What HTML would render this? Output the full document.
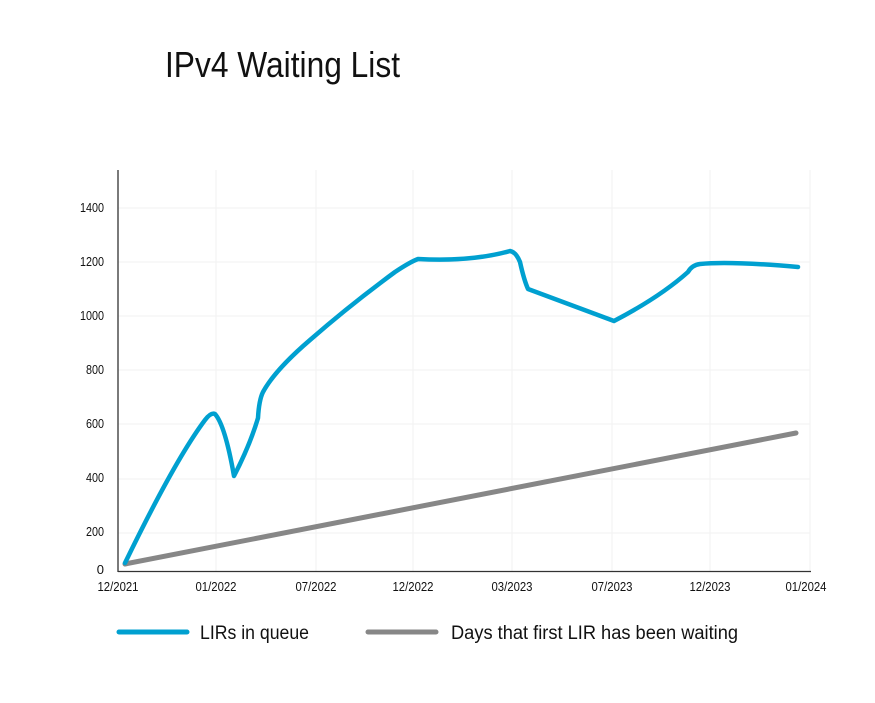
<!DOCTYPE html>
<html><head><style>body{margin:0;background:#fff}svg{display:block}text{font-family:"Liberation Sans Narrow","Liberation Sans",sans-serif}</style></head><body>
<svg width="875" height="703" viewBox="0 0 875 703">
<text x="165" y="77" font-size="36" fill="#111" textLength="235" lengthAdjust="spacingAndGlyphs">IPv4 Waiting List</text>
<g stroke="#f2f2f2" stroke-width="1">
<line x1="118" y1="208" x2="810" y2="208"/><line x1="118" y1="262" x2="810" y2="262"/><line x1="118" y1="316" x2="810" y2="316"/><line x1="118" y1="370" x2="810" y2="370"/><line x1="118" y1="424" x2="810" y2="424"/><line x1="118" y1="479" x2="810" y2="479"/><line x1="118" y1="533" x2="810" y2="533"/>
<line x1="216" y1="170" x2="216" y2="571"/><line x1="316" y1="170" x2="316" y2="571"/><line x1="413" y1="170" x2="413" y2="571"/><line x1="512" y1="170" x2="512" y2="571"/><line x1="612" y1="170" x2="612" y2="571"/><line x1="710" y1="170" x2="710" y2="571"/><line x1="810" y1="170" x2="810" y2="571"/>
</g>
<line x1="118" y1="170" x2="118" y2="572" stroke="#333" stroke-width="1.3"/>
<line x1="118" y1="571.5" x2="811" y2="571.5" stroke="#333" stroke-width="1.3"/>
<g font-size="13" fill="#111" text-anchor="end">
<text x="104" y="212" textLength="24" lengthAdjust="spacingAndGlyphs">1400</text><text x="104" y="266" textLength="24" lengthAdjust="spacingAndGlyphs">1200</text><text x="104" y="320" textLength="24" lengthAdjust="spacingAndGlyphs">1000</text><text x="104" y="374" textLength="18" lengthAdjust="spacingAndGlyphs">800</text><text x="104" y="428" textLength="18" lengthAdjust="spacingAndGlyphs">600</text><text x="104" y="482" textLength="18" lengthAdjust="spacingAndGlyphs">400</text><text x="104" y="536" textLength="18" lengthAdjust="spacingAndGlyphs">200</text><text x="104" y="574">0</text>
</g>
<g font-size="13" fill="#111" text-anchor="middle">
<text x="118" y="591" textLength="41" lengthAdjust="spacingAndGlyphs">12/2021</text><text x="216" y="591" textLength="41" lengthAdjust="spacingAndGlyphs">01/2022</text><text x="316" y="591" textLength="41" lengthAdjust="spacingAndGlyphs">07/2022</text><text x="413" y="591" textLength="41" lengthAdjust="spacingAndGlyphs">12/2022</text><text x="512" y="591" textLength="41" lengthAdjust="spacingAndGlyphs">03/2023</text><text x="612" y="591" textLength="41" lengthAdjust="spacingAndGlyphs">07/2023</text><text x="710" y="591" textLength="41" lengthAdjust="spacingAndGlyphs">12/2023</text><text x="806" y="591" textLength="41" lengthAdjust="spacingAndGlyphs">01/2024</text>
</g>
<line x1="125" y1="564" x2="796" y2="433" stroke="#878787" stroke-width="5" stroke-linecap="round"/>
<path d="M125,563 Q175,460 205,420 Q211,412 215,414 Q225,425 234,476 Q250,445 258,418 Q259,400 263,392 Q275,370 310,340 Q350,305 395,272 Q410,262 418,259 Q470,262 510,251 Q516,252 520,262 Q524,280 528,289 L614,321 Q660,297 688,272 Q692,265 700,264 Q730,261 798,267" fill="none" stroke="#00a0d0" stroke-width="4.5" stroke-linecap="round" stroke-linejoin="round"/>
<line x1="119" y1="632" x2="187" y2="632" stroke="#00a0d0" stroke-width="5" stroke-linecap="round"/>
<text x="200" y="639" font-size="19" fill="#111" textLength="109" lengthAdjust="spacingAndGlyphs">LIRs in queue</text>
<line x1="368" y1="632" x2="436" y2="632" stroke="#878787" stroke-width="5" stroke-linecap="round"/>
<text x="451" y="639" font-size="19" fill="#111" textLength="287" lengthAdjust="spacingAndGlyphs">Days that first LIR has been waiting</text>
</svg>
</body></html>
